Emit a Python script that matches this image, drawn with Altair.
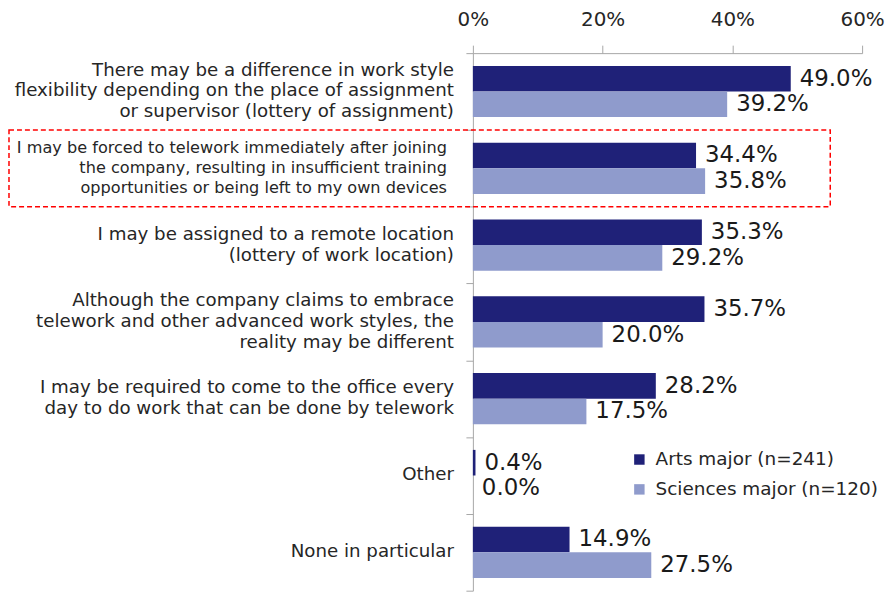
import altair as alt
import pandas as pd

categories = [
    "There may be a difference in work style|flexibility depending on the place of assignment|or supervisor (lottery of assignment)",
    "I may be forced to telework immediately after joining|the company, resulting in insufficient training|opportunities or being left to my own devices",
    "I may be assigned to a remote location|(lottery of work location)",
    "Although the company claims to embrace|telework and other advanced work styles, the|reality may be different",
    "I may be required to come to the office every|day to do work that can be done by telework",
    "Other",
    "None in particular",
]
highlighted = [False, True, False, False, False, False, False]
arts = [49.0, 34.4, 35.3, 35.7, 28.2, 0.4, 14.9]
sciences = [39.2, 35.8, 29.2, 20.0, 17.5, 0.0, 27.5]
series = ["Arts major (n=241)", "Sciences major (n=120)"]
colors = ["#1f2178", "#8f9bcc"]
x_ticks = [0, 20, 40, 60]

rows = []
for c, a, s in zip(categories, arts, sciences):
    rows.append({"cat": c, "series": series[0], "value": a})
    rows.append({"cat": c, "series": series[1], "value": s})
df = pd.DataFrame(rows)
lab_df = pd.DataFrame({
    "cat": categories,
    "hl": highlighted,
    "n": [c.count("|") + 1 for c in categories],
})
box_df = pd.DataFrame({"cat": [c for c, h in zip(categories, highlighted) if h]})

FONT = "DejaVu Sans"
AXIS_GRAY = "#a6a6a6"

y_axis_enc = alt.Y(
    "cat:N",
    sort=categories,
    scale=alt.Scale(paddingInner=0, paddingOuter=0),
    axis=alt.Axis(
        title=None,
        labels=False,
        tickSize=7,
        tickBand="extent",
        domainColor=AXIS_GRAY,
        tickColor=AXIS_GRAY,
    ),
)
y_plain = alt.Y("cat:N", sort=categories)

x_enc = alt.X(
    "value:Q",
    scale=alt.Scale(domain=[0, 60]),
    axis=alt.Axis(
        orient="top",
        values=x_ticks,
        labelExpr="datum.value + '%'",
        labelFlush=False,
        grid=False,
        title=None,
        tickSize=8,
        labelFont=FONT,
        labelFontSize=20,
        labelColor="#262626",
        labelPadding=16,
        domainColor=AXIS_GRAY,
        tickColor=AXIS_GRAY,
    ),
)

yoff = alt.YOffset("series:N", scale=alt.Scale(domain=series, paddingOuter=0.5, paddingInner=0))

base = alt.Chart(df)

bars = base.mark_bar().encode(
    x=x_enc,
    y=y_axis_enc,
    yOffset=yoff,
    color=alt.Color(
        "series:N",
        scale=alt.Scale(domain=series, range=colors),
        legend=alt.Legend(
            title=None,
            orient="none",
            legendX=158,
            legendY=399,
            symbolType="square",
            symbolSize=110,
            symbolStrokeWidth=0,
            labelFont=FONT,
            labelFontSize=18.5,
            labelColor="#262626",
            labelOffset=7,
            labelLimit=400,
            rowPadding=11,
        ),
    ),
)

texts = base.transform_calculate(
    lbl="format(datum.value, '.1f') + '%'"
).mark_text(align="left", baseline="middle", dx=9, font=FONT, fontSize=23, color="#1a1a1a").encode(
    x="value:Q",
    y=y_plain,
    yOffset=yoff,
    text="lbl:N",
)

label_layers = []
for n in [1, 2, 3]:
    for hl in [False, True]:
        lh = 20 if hl else 21
        fs = 16.2 if hl else 18.3
        xpos = -26 if hl else -19
        label_layers.append(
            alt.Chart(lab_df)
            .transform_filter(f"datum.n == {n} && datum.hl == {'true' if hl else 'false'}")
            .mark_text(
                align="right", baseline="middle", lineBreak="|", lineHeight=lh,
                font=FONT, fontSize=fs, color="#262626", dy=-(n - 1) * lh / 2,
            )
            .encode(y=y_plain, x=alt.value(xpos), text="cat:N")
        )

box = alt.Chart(box_df).mark_rect(
    fill="transparent", stroke="#ff0000", strokeDash=[5, 3], strokeWidth=1.5
).encode(
    y=y_plain,
    x=alt.value(-466),
    x2=alt.value(359),
)

chart = alt.layer(bars, texts, *label_layers, box).properties(
    width=391,
    height=540,
    padding={"left": 0, "top": 0, "right": 0, "bottom": 0},
).configure_view(stroke=None)

chart.save("out.html", embed_options={"renderer": "svg", "actions": False})
